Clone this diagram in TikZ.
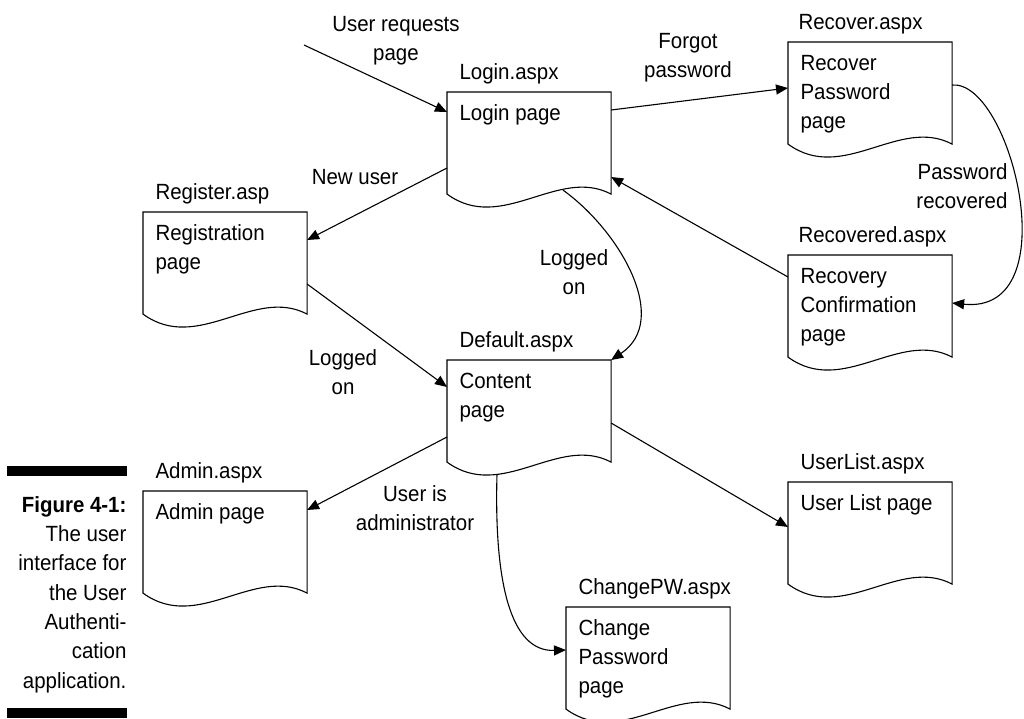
\documentclass[tikz,border=0pt]{standalone}
\usepackage{fontspec}
\setmainfont{Liberation Sans}[FakeStretch=0.93]
\usetikzlibrary{arrows.meta,calc}

\begin{document}
\begin{tikzpicture}[x=1pt,y=-1pt,line width=1.1pt,
  every node/.style={font=\fontsize{22}{29}\selectfont},
  docbox/.style={minimum width=163pt,minimum height=101pt,inner sep=0pt,anchor=north west},
  pagetitle/.style={anchor=base west,inner sep=0pt},
  pagetext/.style={anchor=base west,inner sep=0pt,align=left},
  flowlabel/.style={anchor=base,inner sep=0pt,align=center},
  link/.style={-{Triangle[length=12pt,width=10pt]}}]

\useasboundingbox (0,0) rectangle (1024,718);

% page boxes
\node[docbox] (login)     at (447,92)  {};
\node[docbox] (recover)   at (788,42)  {};
\node[docbox] (register)  at (143,212) {};
\node[docbox] (recovered) at (788,255) {};
\node[docbox] (default)   at (447,360) {};
\node[docbox] (admin)     at (143,491) {};
\node[docbox] (userlist)  at (788,482) {};
\node[docbox] (changepw)  at (566,607) {};

% document outline: three straight sides and a wavy bottom
\foreach \n in {login,recover,register,recovered,default,admin,userlist,changepw}{
  \draw (\n.south west) -- (\n.north west) -- (\n.north east) -- (\n.south east)
    .. controls ($(\n.south east)+(-53,-28)$) and ($(\n.south west)+(55,40)$) .. (\n.south west) -- cycle;
}

% file names above the boxes
\node[pagetitle] (login-h)     at ($(login.north west)+(12,-13)$)     {Login.aspx};
\node[pagetitle] (recover-h)   at ($(recover.north west)+(10,-13)$)   {Recover.aspx};
\node[pagetitle] (register-h)  at ($(register.north west)+(12,-13)$)  {Register.asp};
\node[pagetitle] (recovered-h) at ($(recovered.north west)+(10,-13)$) {Recovered.aspx};
\node[pagetitle] (default-h)   at ($(default.north west)+(12,-13)$)   {Default.aspx};
\node[pagetitle] (admin-h)     at ($(admin.north west)+(12,-13)$)     {Admin.aspx};
\node[pagetitle] (userlist-h)  at ($(userlist.north west)+(12,-13)$)  {UserList.aspx};
\node[pagetitle] (changepw-h)  at ($(changepw.north west)+(12,-13)$)  {ChangePW.aspx};

% page descriptions inside the boxes (anchored on the last line's baseline)
\node[pagetext] (login-t)     at ($(login.north west)+(12,28)$)     {Login page};
\node[pagetext] (recover-t)   at ($(recover.north west)+(12,86)$)   {Recover\\Password\\page};
\node[pagetext] (register-t)  at ($(register.north west)+(12,57)$)  {Registration\\page};
\node[pagetext] (recovered-t) at ($(recovered.north west)+(12,86)$) {Recovery\\Confirmation\\page};
\node[pagetext] (default-t)   at ($(default.north west)+(12,57)$)   {Content\\page};
\node[pagetext] (admin-t)     at ($(admin.north west)+(12,28)$)     {Admin page};
\node[pagetext] (userlist-t)  at ($(userlist.north west)+(12,28)$)  {User List page};
\node[pagetext] (changepw-t)  at ($(changepw.north west)+(12,86)$)  {Change\\Password\\page};

% connectors
\coordinate (entry) at (304,45);
\draw[link] (entry) -- ($(login.north west)+(0,20)$);
\draw[link] ($(login.north east)+(0,18)$) -- ($(recover.north west)+(0,46)$);
\draw[link] ($(recovered.north west)+(0,22)$) -- ($(login.north east)+(0,85)$);
\draw[link] ($(login.north west)+(0,76)$) -- ($(register.north east)+(0,28)$);
\draw[link] ($(register.north east)+(0,72)$) -- ($(default.north west)+(0,27)$);
\draw[link] ($(login.south west)+(116,-4)$)
  .. controls ($(login.south west)+(173,37)$) and ($(default.north east)+(60,-40)$) .. (default.north east);
\draw[link] ($(recover.north east)+(0,43)$)
  .. controls ($(recover.north east)+(59,38)$) and ($(recovered.north east)+(117,60)$) .. ($(recovered.north east)+(0,48)$);
\draw[link] ($(default.north west)+(0,77)$) -- ($(admin.north east)+(0,19)$);
\draw[link] ($(default.north east)+(0,63)$) -- ($(userlist.north west)+(0,45)$);
\draw[link] ($(default.south west)+(50,12)$)
  .. controls ($(default.south west)+(47,119)$) and ($(changepw.north west)+(-56,45)$) .. ($(changepw.north west)+(0,43)$);

% connector labels (anchored on the last line's baseline)
\node[flowlabel] (lbl-request)  at (396,60)  {User requests\\page};
\node[flowlabel] (lbl-forgot)   at (688,77)  {Forgot\\password};
\node[flowlabel] (lbl-new)      at (355,184) {New user};
\node[flowlabel] (lbl-logged1)  at (574,294) {Logged\\on};
\node[flowlabel] (lbl-logged2)  at (343,394) {Logged\\on};
\node[flowlabel,align=right,anchor=base east] (lbl-recovered) at (1008,208) {Password\\recovered};
\node[flowlabel] (lbl-admin)    at (415,530) {User is\\administrator};

% figure caption between two rules
\fill (7,466) rectangle (127,476);
\fill (7,708) rectangle (127,718);
\node[anchor=base east,inner sep=0pt,align=right,font=\fontsize{22}{29.3}\selectfont] (caption) at (127,688)
  {\textbf{Figure 4-1:}\\The user\\interface for\\the User\\Authenti-\\cation\\application.};

\end{tikzpicture}
\end{document}
